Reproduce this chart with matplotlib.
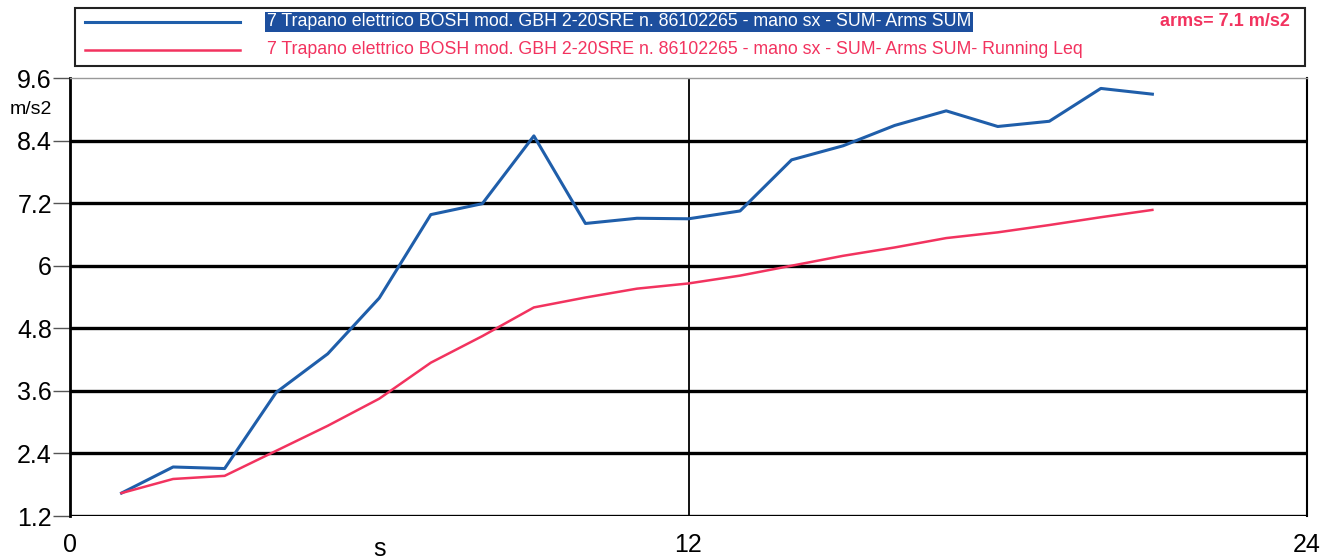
import numpy as np
import matplotlib.pyplot as plt
from matplotlib.patches import Rectangle
from matplotlib.lines import Line2D

plt.rcParams['font.family'] = ['Liberation Sans', 'DejaVu Sans']

# time (s) and acceleration (m/s2)
t = np.arange(1, 22)
arms_sum = [1.64, 2.14, 2.11, 3.57, 4.31, 5.38, 6.98, 7.19, 8.49, 6.81, 6.91,
            6.90, 7.05, 8.03, 8.30, 8.69, 8.97, 8.67, 8.77, 9.40, 9.29]
running_leq = [1.64, 1.91, 1.97, 2.45, 2.93, 3.45, 4.14, 4.65, 5.20, 5.39, 5.56,
               5.66, 5.81, 6.00, 6.19, 6.35, 6.53, 6.64, 6.78, 6.93, 7.07]

name = "7 Trapano elettrico BOSH mod. GBH 2-20SRE n. 86102265 - mano sx - SUM- Arms SUM"
labels = [name, name + "- Running Leq"]
yticks = [1.2, 2.4, 3.6, 4.8, 6, 7.2, 8.4, 9.6]
ytick_labels = ["1.2", "2.4", "3.6", "4.8", "6", "7.2", "8.4", "9.6"]
xticks = [0, 12, 24]

blue = "#1f5eaa"
red = "#f2335f"

fig = plt.figure(figsize=(13.29, 5.60), dpi=100)
ax = fig.add_axes([70/1329, 1-516/560, 1237/1329, 438/560])

ax.plot(t, arms_sum, color=blue, lw=2.2, zorder=3)
ax.plot(t, running_leq, color=red, lw=1.8, zorder=3)

ax.set_xlim(0, 24)
ax.set_ylim(1.2, 9.6)
ax.set_yticks(yticks)
ax.set_yticklabels(ytick_labels)
ax.set_xticks(xticks)
for y in yticks[:-1]:
    ax.axhline(y, color="black", lw=2.4, zorder=2)
ax.axvline(12, color="black", lw=1.3, zorder=2)

ax.tick_params(axis="y", length=12, width=1, color="#555555", pad=1, labelsize=18)
ax.tick_params(axis="x", length=0, pad=12, labelsize=18)
ax.spines["left"].set_linewidth(2)
ax.spines["right"].set_linewidth(1.5)
ax.spines["top"].set_color("#999999")
ax.spines["top"].set_linewidth(1)
ax.spines["bottom"].set_visible(False)

# axis units
ax.text(6, -0.075, "s", fontsize=18, ha="center", va="center",
        transform=ax.get_xaxis_transform())
fig.text(52/1329, 1-110/560, "m/s2", fontsize=14, ha="right", va="center")

# legend box
lax = fig.add_axes([75/1329, 1-66/560, 1230/1329, 58/560])
lax.set_xlim(75, 1305)
lax.set_ylim(66, 8)
lax.axis("off")
lax.add_patch(Rectangle((75, 8), 1230, 58, fill=False, ec="#222222", lw=1.5, clip_on=False))
lax.add_line(Line2D([85, 240], [22, 22], color=blue, lw=2.2))
lax.add_line(Line2D([85, 240], [50, 50], color=red, lw=1.8))
lax.text(267, 22, labels[0], color="white", fontsize=12.8, va="center", ha="left",
         bbox=dict(boxstyle="square,pad=0.1", fc="#1d4f9e", ec="none"))
lax.text(267, 50, labels[1], color=red, fontsize=12.8, va="center", ha="left")
lax.text(1290, 22, f"arms= {running_leq[-1]:.1f} m/s2", color=red, fontsize=13,
         fontweight="bold", va="center", ha="right")

fig.savefig("out.png", dpi=100)
